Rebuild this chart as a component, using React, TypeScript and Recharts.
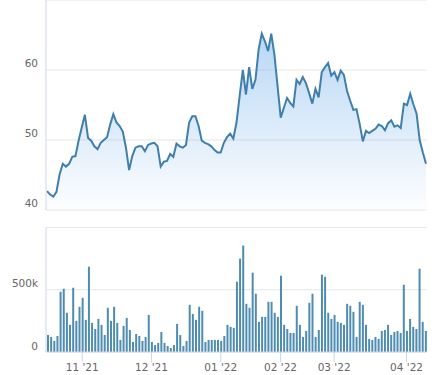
import React from 'react';
import { AreaChart, Area, BarChart, Bar, XAxis, YAxis, CartesianGrid } from 'recharts';

const prices = [
  42.7, 42.2, 41.9, 42.6, 45.1, 46.6, 46.2, 46.6, 47.6, 47.7,
  49.9, 51.8, 53.6, 50.3, 49.9, 49.1, 48.7, 49.6, 50.0, 50.4,
  52.2, 53.7, 52.5, 52.0, 51.2, 48.9, 45.7, 47.7, 48.9, 49.1,
  49.1, 48.4, 49.3, 49.5, 49.6, 49.1, 46.2, 46.9, 47.0, 48.0,
  47.6, 49.5, 49.1, 48.9, 49.3, 52.5, 53.4, 53.4, 52.0, 49.9,
  49.6, 49.4, 49.1, 48.6, 48.2, 48.2, 49.6, 50.4, 50.9, 50.2,
  52.5, 56.3, 60.0, 56.5, 60.4, 57.3, 58.6, 62.9, 65.2, 64.1,
  62.7, 65.2, 62.2, 57.7, 53.2, 54.6, 56.0, 55.3, 54.8, 58.6,
  58.0, 59.0, 58.1, 56.7, 55.2, 57.3, 56.1, 59.7, 60.4, 61.0,
  59.2, 59.7, 58.6, 59.9, 59.3, 57.0, 55.6, 54.3, 54.4, 52.3,
  49.8, 51.3, 51.0, 51.3, 51.6, 52.2, 52.0, 51.4, 52.4, 52.8,
  51.9, 52.1, 51.7, 55.2, 55.0, 56.6, 55.1, 53.8, 50.0, 48.2,
  46.6,
];

// volumes in thousands
const volumesK = [
  137, 121, 89, 129, 484, 508, 315, 218, 516, 250,
  363, 435, 258, 685, 234, 185, 266, 218, 137, 355,
  250, 363, 234, 97, 210, 274, 177, 81, 145, 129,
  89, 121, 298, 81, 56, 73, 161, 73, 48, 32,
  56, 226, 137, 48, 89, 379, 306, 258, 363, 331,
  81, 97, 97, 97, 97, 89, 129, 218, 202, 194,
  565, 750, 855, 387, 355, 637, 468, 242, 282, 282,
  403, 403, 315, 282, 613, 218, 185, 153, 153, 371,
  218, 121, 169, 395, 468, 121, 177, 621, 605, 315,
  266, 298, 242, 234, 218, 387, 371, 323, 121, 403,
  379, 218, 105, 97, 121, 105, 169, 177, 218, 137,
  161, 169, 153, 540, 169, 266, 202, 185, 669, 242,
  169,
];

const priceTicks = [40, 50, 60];
const volumeTicks = [0, 500, 1000];
const volumeTickLabels = ['0', '500k', ''];
const monthTickIndex = [11, 33, 55, 74, 91, 114];
const monthTickLabels = ["11 '21", "12 '21", "01 '22", "02 '22", "03 '22", "04 '22"];

const priceData = prices.map((p, i) => ({ i, p }));
const volumeData = volumesK.map((v, i) => ({ i, v }));

const FONT = 'DejaVu Sans';
const TEXT = '#666666';
const AXIS = '#ccd6eb';
const GRID = '#e6e6e6';

const PriceTick = (props: any) => {
  const { y, payload } = props;
  return (
    <text x={38} y={y - 2.6} textAnchor="end" fontFamily={FONT} fontSize={10.5} fill={TEXT}>
      {payload.value}
    </text>
  );
};

const VolumeTick = (props: any) => {
  const { y, payload } = props;
  const idx = volumeTicks.indexOf(payload.value);
  const label = idx >= 0 ? volumeTickLabels[idx] : '';
  if (!label) return <g />;
  return (
    <text x={38} y={y - 2.4} textAnchor="end" fontFamily={FONT} fontSize={10.5} fill={TEXT}>
      {label}
    </text>
  );
};

const MonthTick = (props: any) => {
  const { x, payload } = props;
  const k = monthTickIndex.indexOf(payload.value);
  if (k < 0) return <g />;
  const axisY = 132;
  return (
    <g>
      <line x1={x} x2={x} y1={axisY} y2={axisY + 10} stroke={AXIS} strokeWidth={1} />
      <text x={x} y={axisY + 18.5} textAnchor="middle" fontFamily={FONT} fontSize={10.5} fill={TEXT}>
        {monthTickLabels[k]}
      </text>
    </g>
  );
};

export default function App() {
  return (
    <div style={{ position: 'absolute', left: 0, top: 0, width: 446, height: 375, background: '#fff' }}>
      <div style={{ position: 'absolute', left: 0, top: 0 }}>
        <AreaChart width={446} height={211} data={priceData} margin={{ top: 0, right: 19, bottom: 1, left: 0 }}>
          <defs>
            <linearGradient id="priceFill" x1="0" y1="0" x2="0" y2="1">
              <stop offset="0%" stopColor="#7cb5ec" stopOpacity={0.9} />
              <stop offset="100%" stopColor="#7cb5ec" stopOpacity={0.03} />
            </linearGradient>
          </defs>
          <CartesianGrid vertical={false} stroke={GRID} />
          <XAxis dataKey="i" hide padding={{ left: 1, right: 1 }} />
          <YAxis
            domain={[40, 70]}
            ticks={priceTicks}
            interval={0}
            width={46}
            axisLine={{ stroke: AXIS }}
            tickLine={false}
            tick={<PriceTick />}
            allowDataOverflow
          />
          <Area
            type="linear"
            dataKey="p"
            stroke="#3f7fad"
            strokeWidth={2}
            fill="url(#priceFill)"
            baseValue={40}
            isAnimationActive={false}
            dot={false}
            activeDot={false}
          />
        </AreaChart>
      </div>
      <div style={{ position: 'absolute', left: 0, top: 220 }}>
        <BarChart width={446} height={155} data={volumeData} margin={{ top: 7.5, right: 19, bottom: 0, left: 0 }}>
          <CartesianGrid vertical={false} stroke={GRID} />
          <XAxis
            dataKey="i"
            height={23}
            interval={0}
            axisLine={{ stroke: AXIS }}
            tickLine={false}
            tick={<MonthTick />}
          />
          <YAxis
            domain={[0, 1000]}
            ticks={volumeTicks}
            interval={0}
            width={46}
            axisLine={{ stroke: AXIS }}
            tickLine={false}
            tick={<VolumeTick />}
          />
          <Bar dataKey="v" fill="#4e8cb0" barSize={2} isAnimationActive={false} />
        </BarChart>
      </div>
    </div>
  );
}
